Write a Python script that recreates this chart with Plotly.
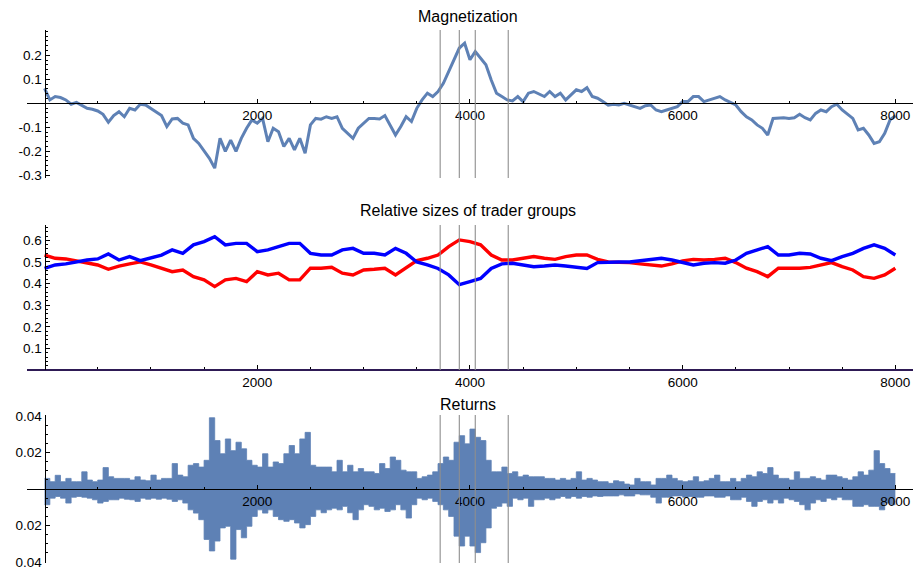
import plotly.graph_objects as go

# ---------------- data ----------------
mag_t = list(range(0, 8001, 50))
magnetization = [
    0.062, 0.014, 0.028, 0.024, 0.014, -0.004, 0.004, -0.010, -0.021, -0.025,
    -0.032, -0.046, -0.079, -0.051, -0.035, -0.056, -0.021, -0.028, -0.004, -0.007,
    -0.021, -0.038, -0.051, -0.097, -0.065, -0.063, -0.083, -0.090, -0.146, -0.167,
    -0.200, -0.229, -0.270, -0.146, -0.200, -0.153, -0.200, -0.146, -0.104, -0.069,
    -0.083, -0.063, -0.160, -0.104, -0.118, -0.180, -0.146, -0.194, -0.146, -0.208,
    -0.090, -0.063, -0.066, -0.056, -0.063, -0.056, -0.104, -0.125, -0.146, -0.104,
    -0.083, -0.063, -0.063, -0.065, -0.051, -0.090, -0.132, -0.097, -0.056, -0.076,
    -0.021, 0.014, 0.042, 0.028, 0.049, 0.083, 0.132, 0.174, 0.230, 0.250,
    0.181, 0.215, 0.188, 0.160, 0.097, 0.042, 0.028, 0.014, 0.010, 0.028,
    0.007, 0.042, 0.049, 0.038, 0.028, 0.049, 0.028, 0.042, 0.014, 0.035,
    0.056, 0.049, 0.065, 0.028, 0.021, 0.007, -0.008, -0.004, -0.007, 0.000,
    -0.007, -0.014, -0.021, -0.010, -0.007, -0.028, -0.035, -0.028, -0.021, -0.014,
    0.007, 0.007, 0.028, 0.028, 0.007, 0.014, 0.018, 0.028, 0.014, 0.004,
    -0.007, -0.035, -0.056, -0.069, -0.090, -0.104, -0.132, -0.063, -0.060, -0.060,
    -0.063, -0.060, -0.046, -0.060, -0.069, -0.042, -0.028, -0.035, -0.014, -0.004,
    -0.028, -0.046, -0.063, -0.111, -0.104, -0.132, -0.167, -0.160, -0.125, -0.069,
    -0.052,
]

group_t = list(range(0, 8001, 100))
group_blue = [
    0.470, 0.486, 0.491, 0.500, 0.509, 0.514, 0.537, 0.509, 0.525, 0.506,
    0.517, 0.532, 0.556, 0.540, 0.579, 0.594, 0.617, 0.579, 0.586, 0.586,
    0.548, 0.556, 0.571, 0.586, 0.586, 0.540, 0.532, 0.532, 0.556, 0.563,
    0.540, 0.540, 0.532, 0.563, 0.540, 0.500, 0.486, 0.470, 0.440, 0.395,
    0.409, 0.424, 0.470, 0.491, 0.494, 0.486, 0.478, 0.481, 0.486, 0.481,
    0.475, 0.470, 0.497, 0.500, 0.500, 0.500, 0.506, 0.512, 0.517, 0.509,
    0.497, 0.486, 0.494, 0.497, 0.494, 0.509, 0.540, 0.556, 0.571, 0.532,
    0.532, 0.540, 0.537, 0.517, 0.506, 0.525, 0.540, 0.563, 0.579, 0.563,
    0.532,
]
group_red = [
    0.532, 0.517, 0.514, 0.505, 0.494, 0.486, 0.466, 0.481, 0.491, 0.500,
    0.486, 0.470, 0.455, 0.463, 0.432, 0.417, 0.386, 0.417, 0.424, 0.409,
    0.455, 0.440, 0.448, 0.417, 0.417, 0.471, 0.471, 0.475, 0.448, 0.440,
    0.463, 0.466, 0.471, 0.440, 0.471, 0.506, 0.517, 0.532, 0.571, 0.602,
    0.594, 0.579, 0.532, 0.509, 0.509, 0.517, 0.525, 0.517, 0.512, 0.525,
    0.532, 0.532, 0.512, 0.500, 0.500, 0.497, 0.491, 0.486, 0.481, 0.491,
    0.505, 0.512, 0.509, 0.512, 0.517, 0.497, 0.471, 0.455, 0.432, 0.471,
    0.471, 0.471, 0.475, 0.486, 0.497, 0.478, 0.463, 0.432, 0.424, 0.440,
    0.471,
]

# returns: envelope per 50-step bin (in thousandths)
ret_bin_start = list(range(0, 8000, 50))
ret_upper_milli = [
    5.8, 4, 7.5, 4, 5.8, 4, 4, 9.4, 4.9, 4,
    4.9, 11.7, 6.7, 5.8, 5.8, 5.8, 4.9, 6.7, 4.9, 4.5,
    7.6, 4.9, 5.8, 5.8, 13.9, 7.6, 6.7, 13, 13.9, 12,
    15.7, 39, 26.5, 19.3, 27.4, 21, 25.6, 22, 15.7, 13,
    12, 19.3, 12, 14.8, 13.9, 19.3, 23.8, 19.3, 27.4, 31,
    13, 12, 12, 12, 9.4, 15.7, 9.4, 13, 9.4, 11.2,
    9.4, 9.4, 8.5, 13.9, 11.2, 17.5, 15.7, 10.3, 9.4, 9.4,
    5.8, 6.7, 7.6, 9.4, 13.9, 17.5, 15.7, 25.6, 29.2, 24.7,
    32.8, 28.3, 26.5, 15.7, 9.4, 9.4, 12, 8.5, 9.4, 6.7,
    7.6, 6.7, 6.7, 6.7, 5.8, 5.8, 4.9, 5.8, 4.9, 5.8,
    9.4, 4.9, 5.8, 4.9, 4, 4, 3.1, 4.5, 4, 2.7,
    2.2, 5.8, 4, 4, 2.2, 5.8, 5.8, 7.6, 5.8, 4.5,
    4, 4.5, 6.7, 4, 4.5, 5.8, 7.6, 4, 4, 5.8,
    4, 5.8, 7.6, 6.7, 9.4, 8.5, 11.7, 7.6, 5.8, 5.8,
    4.9, 9.4, 5.8, 5.8, 6.7, 5.8, 4.9, 7.6, 7.6, 6.7,
    5.8, 4.9, 6.7, 9.4, 7.6, 10.3, 21, 13.9, 11.2, 8.5,
]
ret_lower_milli = [
    8.6, 5, 4.1, 5, 7.7, 4.5, 4.1, 4.5, 5, 5.9,
    7.7, 6.8, 5.9, 5.9, 5, 5.6, 5.9, 6.8, 5, 5.6,
    5, 5.6, 5, 5.6, 6.8, 5.9, 7.7, 11.4, 13.2, 16.8,
    27.6, 33.9, 28.5, 21.3, 20.4, 38.4, 22.2, 26.7, 20.4, 15,
    11.4, 13.2, 11.4, 15, 16.8, 17.7, 16.8, 18.6, 21.3, 19.5,
    15, 11.4, 13, 11.4, 10.5, 11.4, 9.5, 13, 16.8, 11.4,
    8.6, 9.5, 11.4, 10.5, 12.3, 11.4, 8.6, 11.4, 15.9, 8.6,
    5, 5.9, 5, 6.8, 8.6, 11.4, 15, 25.8, 31.2, 25.8,
    31.2, 34.8, 29.4, 21.3, 10.5, 9.5, 7.7, 9.5, 5, 5.9,
    5, 9.5, 5.9, 5.9, 5, 5.9, 5, 4.1, 5, 4.1,
    5, 4.1, 4.5, 3.8, 4.1, 3.8, 3.8, 3.8, 3.2, 3.8,
    3.8, 2.7, 3.2, 3.2, 4.5, 7.7, 4.5, 4.5, 3.8, 3.8,
    4.5, 4.1, 4.5, 4.5, 3.8, 3.8, 4.5, 4.5, 3.8, 5.9,
    5.9, 4.5, 6.8, 9.5, 6.8, 5.9, 7.7, 5.9, 7.7, 5,
    5.9, 6.8, 8.6, 11.4, 7.7, 5.9, 6.8, 5, 5.9, 4.5,
    5.9, 5.9, 9.5, 9.5, 8.6, 9.5, 9.5, 11.4, 7.7, 8.6,
]

event_times = [3720, 3900, 4050, 4360]

x_ticks = [2000, 4000, 6000, 8000]
x_minor = [500, 1000, 1500, 2500, 3000, 3500, 4500, 5000, 5500, 6500, 7000, 7500]
mag_ticks = [-0.3, -0.2, -0.1, 0.1, 0.2]
group_ticks = [0.1, 0.2, 0.3, 0.4, 0.5, 0.6]
ret_ticks = [-0.04, -0.02, 0.02, 0.04]
ret_tick_text = ["0.04", "0.02", "0.02", "0.04"]

titles = ["Magnetization", "Relative sizes of trader groups", "Returns"]

# ---------------- layout helpers ----------------
W, H = 914, 571
MBLUE = "#5E81B5"
FONT = "Liberation Sans, Arial, sans-serif"

def py(px):
    return 1 - px / H

x_range = [-165, 8166]
x_dom = [27 / W, 913 / W]
y0_pos_x = x_dom[0] + (0 - x_range[0]) / (x_range[1] - x_range[0]) * (x_dom[1] - x_dom[0])

panels = [
    dict(dom=[py(178), py(30)], rng=[-0.311, 0.305], ticks=mag_ticks, text=None,
         minor=[round(-0.3 + 0.02 * i, 3) for i in range(31)], title_px=17),
    dict(dom=[py(370), py(225)], rng=[0, 0.671], ticks=group_ticks, text=None,
         minor=[round(0.02 * i, 3) for i in range(34)], title_px=211),
    dict(dom=[py(563), py(415)], rng=[-0.0405, 0.0405], ticks=ret_ticks, text=ret_tick_text,
         minor=[round(-0.04 + 0.005 * i, 4) for i in range(17)], title_px=404),
]

fig = go.Figure()

# Magnetization
fig.add_trace(go.Scatter(x=mag_t, y=magnetization, mode="lines",
                         line=dict(color=MBLUE, width=3), xaxis="x", yaxis="y",
                         showlegend=False))
# Trader groups
fig.add_trace(go.Scatter(x=group_t, y=group_red, mode="lines",
                         line=dict(color="#ff0000", width=3.4), xaxis="x2", yaxis="y2",
                         showlegend=False))
fig.add_trace(go.Scatter(x=group_t, y=group_blue, mode="lines",
                         line=dict(color="#0000ff", width=3.4), xaxis="x2", yaxis="y2",
                         showlegend=False))
# Returns (filled step envelopes)
up_y = [v / 1000 for v in ret_upper_milli]
lo_y = [-v / 1000 for v in ret_lower_milli]
step_x = ret_bin_start + [8000]
fig.add_trace(go.Scatter(x=step_x, y=up_y + [up_y[-1]], mode="lines", line_shape="hv",
                         fill="tozeroy", fillcolor=MBLUE, line=dict(color=MBLUE, width=0.8),
                         xaxis="x3", yaxis="y3", showlegend=False))
fig.add_trace(go.Scatter(x=step_x, y=lo_y + [lo_y[-1]], mode="lines", line_shape="hv",
                         fill="tozeroy", fillcolor=MBLUE, line=dict(color=MBLUE, width=0.8),
                         xaxis="x3", yaxis="y3", showlegend=False))

layout = dict(width=W, height=H, autosize=False, margin=dict(l=0, r=0, t=0, b=0, pad=0),
              paper_bgcolor="white", plot_bgcolor="white",
              font=dict(family=FONT, size=13.5, color="black"), showlegend=False)

shapes = []
annotations = []
for i, p in enumerate(panels, start=1):
    sfx = "" if i == 1 else str(i)
    r0, r1 = p["rng"]
    d0, d1 = p["dom"]
    xpos = d0 + (0 - r0) / (r1 - r0) * (d1 - d0)
    axis_col = "#2e1a55" if i == 2 else "black"
    layout["xaxis" + sfx] = dict(
        domain=x_dom, range=x_range, anchor="free", position=xpos, automargin=False,
        showline=True, linecolor=axis_col, linewidth=1.6 if i == 2 else 1,
        showgrid=False, zeroline=False, ticklabeloverflow="allow",
        tickmode="array", tickvals=x_ticks, ticktext=[str(v) for v in x_ticks],
        ticks="inside", ticklen=4, tickcolor="black", tickwidth=1,
        minor=dict(tickmode="array", tickvals=x_minor, ticks="inside", ticklen=2.5,
                   tickcolor="black", tickwidth=1),
        tickfont=dict(family=FONT, size=13.5, color="black"),
    )
    layout["yaxis" + sfx] = dict(
        domain=p["dom"], range=p["rng"], anchor="free", position=y0_pos_x, automargin=False,
        showline=True, linecolor="black", linewidth=1,
        showgrid=False, zeroline=False, ticklabeloverflow="allow",
        tickmode="array", tickvals=p["ticks"],
        ticktext=p["text"] if p["text"] else [f"{v:g}" for v in p["ticks"]],
        ticks="inside", ticklen=4, tickcolor="black", tickwidth=1,
        minor=dict(tickmode="array", tickvals=p["minor"], ticks="inside", ticklen=2.5,
                   tickcolor="black", tickwidth=1),
        tickfont=dict(family=FONT, size=13.5, color="black"),
    )
    for t in event_times:
        shapes.append(dict(type="line", xref="x" + sfx, yref=("y" + sfx) + " domain",
                           x0=t, x1=t, y0=0, y1=1, layer="above",
                           line=dict(color="#8e8e8e", width=1.1)))
    annotations.append(dict(text=titles[i - 1], xref="paper", yref="paper",
                            x=468 / W, y=py(p["title_px"]), xanchor="center", yanchor="middle",
                            showarrow=False, font=dict(family=FONT, size=16, color="black")))

layout["shapes"] = shapes
layout["annotations"] = annotations
fig.update_layout(**layout)

fig.write_html(
    "out.html",
    config={"responsive": False, "displayModeBar": False},
    post_script="document.body.style.margin='0';document.body.style.overflow='hidden';",
)
